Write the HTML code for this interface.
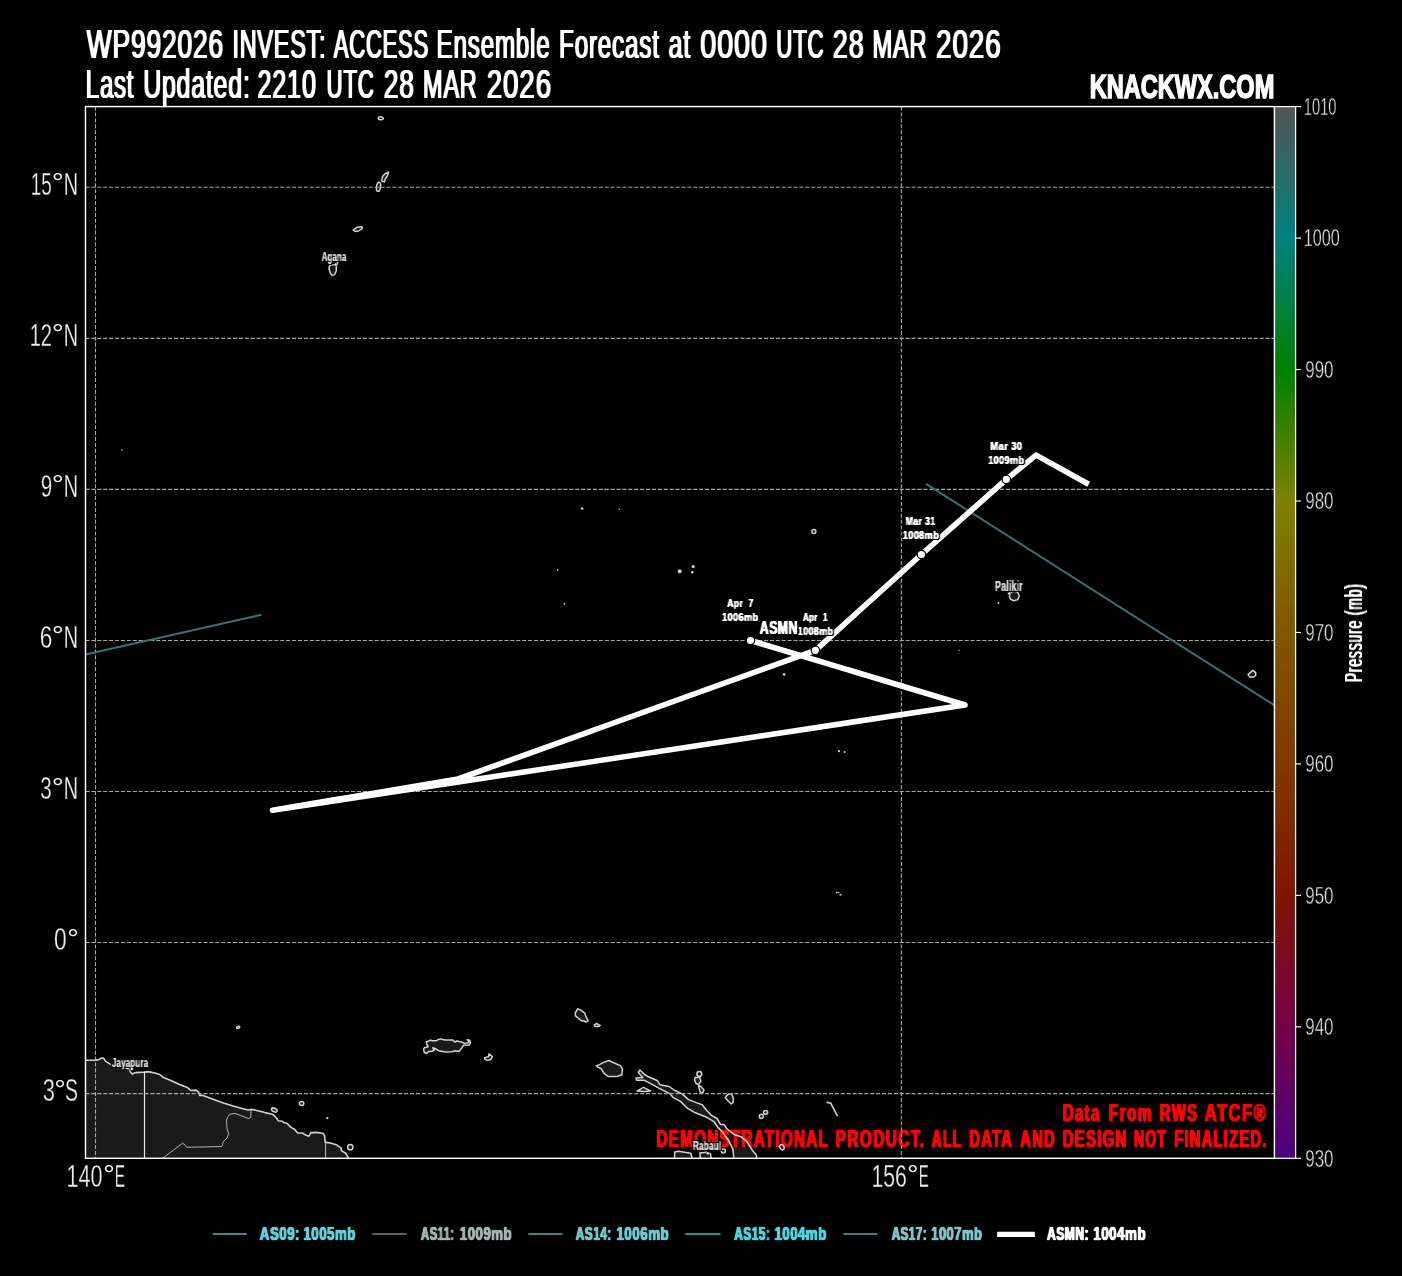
<!DOCTYPE html>
<html lang="en"><head><meta charset="utf-8"><title>WP992026 INVEST: ACCESS Ensemble Forecast</title>
<style>
html,body{margin:0;padding:0;background:#000;}
body{width:1402px;height:1276px;overflow:hidden;}
svg{display:block;}
text{font-family:"Liberation Sans",sans-serif;white-space:pre;}
.coast{fill:#1a1a1a;stroke:#d2d2d2;stroke-width:1.6;stroke-linejoin:round;stroke-linecap:round;}
.isl{fill:#1a1a1a;stroke:#cfcfcf;stroke-width:1.3;stroke-linejoin:round;}
.dot{fill:#cfcfcf;}
.bord{fill:none;stroke:#d8d8d8;stroke-width:0.8;stroke-linejoin:round;}
.grid{stroke:#a6a6a6;stroke-width:1.1;stroke-dasharray:4.1 1.8;fill:none;}
.ol{paint-order:stroke;stroke:#000;stroke-width:2.2;stroke-linejoin:round;}
</style></head><body>
<svg width="1402" height="1276" viewBox="0 0 1402 1276">
<rect width="1402" height="1276" fill="#000"/>
<defs>
<clipPath id="ax"><rect x="85.5" y="106.6" width="1189.0" height="1051.7"/></clipPath>
<linearGradient id="cb" x1="0" y1="0" x2="0" y2="1">

<stop offset="0.0000" stop-color="rgb(85, 85, 85)"/>
<stop offset="0.1250" stop-color="rgb(0, 128, 128)"/>
<stop offset="0.2500" stop-color="rgb(0, 128, 0)"/>
<stop offset="0.3750" stop-color="rgb(128, 128, 0)"/>
<stop offset="0.5000" stop-color="rgb(128, 86, 0)"/>
<stop offset="0.6250" stop-color="rgb(128, 56, 0)"/>
<stop offset="0.7500" stop-color="rgb(128, 20, 0)"/>
<stop offset="0.8750" stop-color="rgb(116, 0, 72)"/>
<stop offset="1.0000" stop-color="rgb(76, 0, 128)"/>
</linearGradient>
<filter id="lblA" x="-20%" y="-30%" width="140%" height="160%" color-interpolation-filters="sRGB"><feConvolveMatrix in="SourceAlpha" order="3 1" kernelMatrix="0.45 1 0.45" divisor="1" edgeMode="none" result="m"/><feMorphology in="SourceGraphic" operator="dilate" radius="1" result="c"/><feComposite in="c" in2="m" operator="in" result="t"/><feMorphology in="m" operator="dilate" radius="1" result="d"/><feFlood flood-color="#000"/><feComposite in2="d" operator="in" result="h"/><feMerge><feMergeNode in="h"/><feMergeNode in="t"/></feMerge></filter>
<filter id="lblS" x="-20%" y="-30%" width="140%" height="160%" color-interpolation-filters="sRGB"><feConvolveMatrix in="SourceAlpha" order="3 1" kernelMatrix="0.35 1 0.35" divisor="1" edgeMode="none" result="m"/><feMorphology in="SourceGraphic" operator="dilate" radius="1" result="c"/><feComposite in="c" in2="m" operator="in" result="t"/><feMorphology in="m" operator="dilate" radius="1" result="d"/><feFlood flood-color="#000"/><feComposite in2="d" operator="in" result="h"/><feMerge><feMergeNode in="h"/><feMergeNode in="t"/></feMerge></filter>
<filter id="lblC" x="-20%" y="-30%" width="140%" height="160%" color-interpolation-filters="sRGB"><feConvolveMatrix in="SourceAlpha" order="3 1" kernelMatrix="0.25 1 0.25" divisor="1" edgeMode="none" result="m"/><feMorphology in="SourceGraphic" operator="dilate" radius="1" result="c"/><feComposite in="c" in2="m" operator="in" result="t"/><feMorphology in="m" operator="dilate" radius="1" result="d"/><feFlood flood-color="#000"/><feComposite in2="d" operator="in" result="h"/><feMerge><feMergeNode in="h"/><feMergeNode in="t"/></feMerge></filter>
<filter id="hxL" x="-5%" y="-25%" width="110%" height="150%" color-interpolation-filters="sRGB"><feConvolveMatrix in="SourceAlpha" order="3 3" kernelMatrix="0 0.2 0 0.45 1 0.45 0 0.2 0" divisor="1" edgeMode="none" result="m"/><feMorphology in="SourceGraphic" operator="dilate" radius="1" result="c"/><feComposite in="c" in2="m" operator="in" result="t"/></filter>
<filter id="hxR" x="-5%" y="-25%" width="110%" height="150%" color-interpolation-filters="sRGB"><feConvolveMatrix in="SourceAlpha" order="3 3" kernelMatrix="0 0.15 0 0.62 1 0.62 0 0.15 0" divisor="1" edgeMode="none" result="m"/><feMorphology in="SourceGraphic" operator="dilate" radius="1" result="c"/><feComposite in="c" in2="m" operator="in" result="t"/></filter>
<filter id="hx1" x="-5%" y="-25%" width="110%" height="150%" color-interpolation-filters="sRGB"><feConvolveMatrix in="SourceAlpha" order="3 1" kernelMatrix="0.7 1 0.7" divisor="1" edgeMode="none" result="m"/><feMorphology in="SourceGraphic" operator="dilate" radius="1" result="c"/><feComposite in="c" in2="m" operator="in" result="t"/></filter>
<filter id="hy1" x="-5%" y="-25%" width="110%" height="150%" color-interpolation-filters="sRGB"><feConvolveMatrix in="SourceAlpha" order="1 3" kernelMatrix="0.5 1 0.5" divisor="1" edgeMode="none" result="m"/><feMorphology in="SourceGraphic" operator="dilate" radius="1" result="c"/><feComposite in="c" in2="m" operator="in" result="t"/></filter>
</defs>
<g clip-path="url(#ax)">
<polygon points="85.5,1060.3 95.5,1060.1 99.3,1059.5 100.9,1058 103.8,1058.4 105.7,1061.4 111,1064.6 116.4,1066.2 122.8,1067.6 129.2,1068.7 130.5,1072.1 132.1,1074 135.6,1072.6 144.2,1072.1 148.5,1071.6 154.9,1073 159.7,1074.5 162.9,1077.2 170.9,1080.4 179.5,1084.4 187.5,1087.6 190.7,1090.5 196.1,1090.1 198.8,1092.4 199.8,1095.4 203,1095.4 213.7,1099.4 223.4,1103.1 233.9,1106.2 247.8,1110 252.1,1109.4 256.9,1110.5 264.9,1112.6 272.4,1114.2 275.6,1116.9 278.3,1120.7 282.1,1121.2 284.2,1122.8 286.9,1123.3 290.6,1127.1 294.4,1129.2 297.6,1133 302.4,1133 305.6,1135.1 308.8,1136.2 310.9,1132.6 316.3,1132.4 322.7,1133.2 324.6,1135.6 325.2,1142.1 331.3,1143.3 336.1,1144.7 340.9,1147.9 341.4,1150.6 345.7,1153.3 348.4,1157.6 349,1162 349,1170 70,1170 70,1060.3" fill="#1a1a1a"/>
<g fill="#1a1a1a" stroke="none">
<ellipse cx="274.3" cy="1110" rx="3.0" ry="1.7" transform="rotate(25 274.3 1110)"/>
<ellipse cx="301.6" cy="1103.5" rx="2.2" ry="2.0" transform="rotate(20 301.6 1103.5)"/>
<ellipse cx="350.3" cy="1147.2" rx="2.6" ry="2.6" transform="rotate(0 350.3 1147.2)"/>
<ellipse cx="238.2" cy="1027.4" rx="1.6" ry="1.0" transform="rotate(-20 238.2 1027.4)"/>
<polygon points="423.6,1049.2 424.3,1047.8 428.2,1046.7 426.8,1044.3 426.4,1041.8 428.9,1041 430.3,1040 432.1,1040.8 436,1040.8 438.5,1039.4 441,1038.9 444.2,1040 452.8,1040 454.9,1042.1 456.7,1041 461.4,1042.1 464.2,1043.2 468.5,1042.8 468.5,1041 467.1,1039.6 469.6,1040.3 470.5,1042.8 469.2,1045.1 463.5,1045.3 461.4,1048.5 458.9,1051.4 455.6,1050.7 452.1,1051.7 445.7,1052.1 438.5,1050.7 435,1048.5 432.8,1047.8 434.3,1050.3 431.4,1051.4 428.5,1051.4 426.8,1053.5 424.3,1052.5"/>
<polygon points="484.6,1057.8 488.6,1056.6 489,1053.8 492.3,1056.6 490.6,1059.6 487.4,1060.4 484.9,1059.3"/>
<polygon points="577.6,1008.8 580.5,1009.9 584.7,1013.1 586.1,1016.9 588.2,1020.8 585.7,1022.2 583.6,1020.5 582.2,1021.2 578.3,1018.3 575.5,1015.9 575.2,1013.1"/>
<polygon points="594.2,1025 596.8,1023.4 598.2,1024.6 600.2,1025.4 598.5,1026.6 594.8,1026.6"/>
<polygon points="596.3,1066 599.5,1064.6 603.7,1062.4 609,1060.5 613.6,1062.8 620.3,1065.6 622.4,1068.8 621.9,1074.8 617.8,1076.2 614.3,1076.5 608,1076.5 604.1,1073.4 601.3,1068.8 598.4,1067.4"/>
<polygon points="640,1070 644.5,1074.5 648.5,1076.8 657.7,1080.8 659.9,1084.8 669.1,1086.5 674.8,1090.5 682.2,1093.9 688.5,1099.6 697.6,1103.1 702.2,1104.8 706.7,1110.5 711.3,1115.1 717,1118.5 720.4,1124.2 724.4,1124.8 726.7,1128.7 734.1,1134.5 741,1136.7 746.7,1141.3 752.4,1150.4 756.4,1155 757,1162 734.1,1162 733,1149.3 728.4,1140.2 722.7,1132.2 718.1,1127.6 713.6,1121.3 706.7,1117.3 695.3,1112.8 687.3,1108.2 680.5,1101.4 673.6,1097.9 670.2,1093.9 658.8,1088.2 650.8,1083.7 644,1080.2 636.5,1080.2 636,1078 642.8,1077.4 641.1,1075.7 638.3,1072.3"/>
<polygon points="637.1,1091.1 643.4,1087.4 650.6,1090.9 644,1091.6"/>
<ellipse cx="699.3" cy="1074" rx="2.4" ry="2.4" transform="rotate(0 699.3 1074)"/>
<polygon points="695,1077.6 699.8,1077.2 700.8,1081.5 698.5,1084.4 696,1083.5 694.6,1080"/>
<polygon points="698.4,1085.2 700.8,1086.5 703.9,1090 702.8,1093 700.4,1092.2 699.2,1088.8"/>
<polygon points="725.2,1097.5 728,1094.2 731.5,1093.6 733.4,1098.8 733,1102.6 731.2,1104 727.8,1100.8"/>
<ellipse cx="765.6" cy="1112.3" rx="2.1" ry="1.9" transform="rotate(0 765.6 1112.3)"/>
<ellipse cx="761.3" cy="1116.3" rx="2.0" ry="2.1" transform="rotate(0 761.3 1116.3)"/>
<ellipse cx="781.9" cy="1147.2" rx="2.0" ry="2.8" transform="rotate(-30 781.9 1147.2)"/>
<ellipse cx="723.3" cy="1151" rx="2.0" ry="2.0" transform="rotate(0 723.3 1151)"/>
<polygon points="674.2,1162 674.8,1152.1 678.2,1151.3 690.8,1153.3 693,1162"/>
<polygon points="700.5,1162 699.9,1152.9 706,1152.2 710.5,1153.6 711.5,1162"/>
<ellipse cx="380.8" cy="118.3" rx="2.6" ry="1.4" transform="rotate(5 380.8 118.3)"/>
<polygon points="381.6,180.8 382.6,176.6 385.2,173.6 388.6,172.3 387.2,176.2 385.4,178.8 384.4,182"/>
<ellipse cx="378.5" cy="186.8" rx="2.0" ry="4.6" transform="rotate(8 378.5 186.8)"/>
<polygon points="353.2,230.2 356.5,227.6 361.8,226.4 362.3,228.3 358.5,231 355.2,231.4"/>
<polygon points="337.8,262.6 336.3,266.5 336.3,271 334.5,274.6 332.2,275.4 330.2,273 329,268.5 329.6,265.4 331.6,264.8 334.5,264.8"/>
<ellipse cx="813.9" cy="531.4" rx="2.0" ry="2.0" transform="rotate(0 813.9 531.4)"/>
<polygon points="1010.0,594.0 1011.8,591.6 1015.5,591.2 1018.2,593.0 1019.2,596.2 1017.8,599.6 1013.8,600.8 1010.6,599.4 1009.4,596.8"/>
<polygon points="1248.0,674.6 1252.8,670.4 1255.6,672.6 1255.7,675.5 1253.6,677 1249.6,676.9"/>
</g>
<g filter="url(#hxR)">
<text y="1121.4" font-size="24.5" font-weight="700" fill="#ff0000" ><tspan x="1062.66" textLength="37.92" lengthAdjust="spacingAndGlyphs"  letter-spacing="2.0">Data</tspan> <tspan x="1108.83" textLength="44.23" lengthAdjust="spacingAndGlyphs"  letter-spacing="2.0">From</tspan> <tspan x="1159.87" textLength="38.43" lengthAdjust="spacingAndGlyphs"  letter-spacing="2.0">RWS</tspan> <tspan x="1204.73" textLength="62.39" lengthAdjust="spacingAndGlyphs"  letter-spacing="2.0">ATCF®</tspan></text>
<text y="1146.5" font-size="24.7" font-weight="700" fill="#ff0000" ><tspan x="656.56" textLength="172.52" lengthAdjust="spacingAndGlyphs"  letter-spacing="2.0">DEMONSTRATIONAL</tspan> <tspan x="835.74" textLength="89.60" lengthAdjust="spacingAndGlyphs"  letter-spacing="2.0">PRODUCT.</tspan> <tspan x="931.81" textLength="30.16" lengthAdjust="spacingAndGlyphs"  letter-spacing="2.0">ALL</tspan> <tspan x="969.28" textLength="44.01" lengthAdjust="spacingAndGlyphs"  letter-spacing="2.0">DATA</tspan> <tspan x="1020.28" textLength="35.58" lengthAdjust="spacingAndGlyphs"  letter-spacing="2.0">AND</tspan> <tspan x="1062.67" textLength="64.83" lengthAdjust="spacingAndGlyphs"  letter-spacing="2.0">DESIGN</tspan> <tspan x="1133.94" textLength="33.11" lengthAdjust="spacingAndGlyphs"  letter-spacing="2.0">NOT</tspan> <tspan x="1174.29" textLength="93.39" lengthAdjust="spacingAndGlyphs"  letter-spacing="2.0">FINALIZED.</tspan></text>
</g>
<polyline points="85.5,1060.3 95.5,1060.1 99.3,1059.5 100.9,1058 103.8,1058.4 105.7,1061.4 111,1064.6 116.4,1066.2 122.8,1067.6 129.2,1068.7 130.5,1072.1 132.1,1074 135.6,1072.6 144.2,1072.1 148.5,1071.6 154.9,1073 159.7,1074.5 162.9,1077.2 170.9,1080.4 179.5,1084.4 187.5,1087.6 190.7,1090.5 196.1,1090.1 198.8,1092.4 199.8,1095.4 203,1095.4 213.7,1099.4 223.4,1103.1 233.9,1106.2 247.8,1110 252.1,1109.4 256.9,1110.5 264.9,1112.6 272.4,1114.2 275.6,1116.9 278.3,1120.7 282.1,1121.2 284.2,1122.8 286.9,1123.3 290.6,1127.1 294.4,1129.2 297.6,1133 302.4,1133 305.6,1135.1 308.8,1136.2 310.9,1132.6 316.3,1132.4 322.7,1133.2 324.6,1135.6 325.2,1142.1 331.3,1143.3 336.1,1144.7 340.9,1147.9 341.4,1150.6 345.7,1153.3 348.4,1157.6 349,1162" class="coast" style="fill:none"/>
<line x1="144.5" y1="1072" x2="144.5" y2="1160" stroke="#e8e8e8" stroke-width="1.2"/>
<line x1="325.6" y1="1142.3" x2="325.6" y2="1160" stroke="#d8d8d8" stroke-width="0.9"/>
<polyline class="bord" points="162.9,1158 182.7,1143.2 185.4,1145.4 186.5,1147.3 221.8,1146.5 223.4,1141.6 227.1,1137.9 228.7,1133.6 227.1,1128.8 226.4,1120.2 228,1116.5 230.2,1114.2 235,1113.4 241.4,1115.8 248.4,1118.5 250.8,1117.4 251,1110.3"/>
<g fill="none" stroke="#d2d2d2" stroke-width="1.5" stroke-linejoin="round">
<ellipse cx="274.3" cy="1110" rx="3.0" ry="1.7" transform="rotate(25 274.3 1110)"/>
<ellipse cx="301.6" cy="1103.5" rx="2.2" ry="2.0" transform="rotate(20 301.6 1103.5)"/>
<ellipse cx="350.3" cy="1147.2" rx="2.6" ry="2.6" transform="rotate(0 350.3 1147.2)"/>
<ellipse cx="238.2" cy="1027.4" rx="1.6" ry="1.0" transform="rotate(-20 238.2 1027.4)"/>
<polygon points="423.6,1049.2 424.3,1047.8 428.2,1046.7 426.8,1044.3 426.4,1041.8 428.9,1041 430.3,1040 432.1,1040.8 436,1040.8 438.5,1039.4 441,1038.9 444.2,1040 452.8,1040 454.9,1042.1 456.7,1041 461.4,1042.1 464.2,1043.2 468.5,1042.8 468.5,1041 467.1,1039.6 469.6,1040.3 470.5,1042.8 469.2,1045.1 463.5,1045.3 461.4,1048.5 458.9,1051.4 455.6,1050.7 452.1,1051.7 445.7,1052.1 438.5,1050.7 435,1048.5 432.8,1047.8 434.3,1050.3 431.4,1051.4 428.5,1051.4 426.8,1053.5 424.3,1052.5"/>
<polygon points="484.6,1057.8 488.6,1056.6 489,1053.8 492.3,1056.6 490.6,1059.6 487.4,1060.4 484.9,1059.3"/>
<polygon points="577.6,1008.8 580.5,1009.9 584.7,1013.1 586.1,1016.9 588.2,1020.8 585.7,1022.2 583.6,1020.5 582.2,1021.2 578.3,1018.3 575.5,1015.9 575.2,1013.1"/>
<polygon points="594.2,1025 596.8,1023.4 598.2,1024.6 600.2,1025.4 598.5,1026.6 594.8,1026.6"/>
<polygon points="596.3,1066 599.5,1064.6 603.7,1062.4 609,1060.5 613.6,1062.8 620.3,1065.6 622.4,1068.8 621.9,1074.8 617.8,1076.2 614.3,1076.5 608,1076.5 604.1,1073.4 601.3,1068.8 598.4,1067.4"/>
<polygon points="640,1070 644.5,1074.5 648.5,1076.8 657.7,1080.8 659.9,1084.8 669.1,1086.5 674.8,1090.5 682.2,1093.9 688.5,1099.6 697.6,1103.1 702.2,1104.8 706.7,1110.5 711.3,1115.1 717,1118.5 720.4,1124.2 724.4,1124.8 726.7,1128.7 734.1,1134.5 741,1136.7 746.7,1141.3 752.4,1150.4 756.4,1155 757,1162 734.1,1162 733,1149.3 728.4,1140.2 722.7,1132.2 718.1,1127.6 713.6,1121.3 706.7,1117.3 695.3,1112.8 687.3,1108.2 680.5,1101.4 673.6,1097.9 670.2,1093.9 658.8,1088.2 650.8,1083.7 644,1080.2 636.5,1080.2 636,1078 642.8,1077.4 641.1,1075.7 638.3,1072.3"/>
<polygon points="637.1,1091.1 643.4,1087.4 650.6,1090.9 644,1091.6"/>
<ellipse cx="699.3" cy="1074" rx="2.4" ry="2.4" transform="rotate(0 699.3 1074)"/>
<polygon points="695,1077.6 699.8,1077.2 700.8,1081.5 698.5,1084.4 696,1083.5 694.6,1080"/>
<polygon points="698.4,1085.2 700.8,1086.5 703.9,1090 702.8,1093 700.4,1092.2 699.2,1088.8"/>
<polygon points="725.2,1097.5 728,1094.2 731.5,1093.6 733.4,1098.8 733,1102.6 731.2,1104 727.8,1100.8"/>
<ellipse cx="765.6" cy="1112.3" rx="2.1" ry="1.9" transform="rotate(0 765.6 1112.3)"/>
<ellipse cx="761.3" cy="1116.3" rx="2.0" ry="2.1" transform="rotate(0 761.3 1116.3)"/>
<ellipse cx="781.9" cy="1147.2" rx="2.0" ry="2.8" transform="rotate(-30 781.9 1147.2)"/>
<ellipse cx="723.3" cy="1151" rx="2.0" ry="2.0" transform="rotate(0 723.3 1151)"/>
<polygon points="674.2,1162 674.8,1152.1 678.2,1151.3 690.8,1153.3 693,1162"/>
<polygon points="700.5,1162 699.9,1152.9 706,1152.2 710.5,1153.6 711.5,1162"/>
<ellipse cx="380.8" cy="118.3" rx="2.6" ry="1.4" transform="rotate(5 380.8 118.3)"/>
<polygon points="381.6,180.8 382.6,176.6 385.2,173.6 388.6,172.3 387.2,176.2 385.4,178.8 384.4,182"/>
<ellipse cx="378.5" cy="186.8" rx="2.0" ry="4.6" transform="rotate(8 378.5 186.8)"/>
<polygon points="353.2,230.2 356.5,227.6 361.8,226.4 362.3,228.3 358.5,231 355.2,231.4"/>
<polygon points="337.8,262.6 336.3,266.5 336.3,271 334.5,274.6 332.2,275.4 330.2,273 329,268.5 329.6,265.4 331.6,264.8 334.5,264.8"/>
<ellipse cx="813.9" cy="531.4" rx="2.0" ry="2.0" transform="rotate(0 813.9 531.4)"/>
<polygon points="1010.0,594.0 1011.8,591.6 1015.5,591.2 1018.2,593.0 1019.2,596.2 1017.8,599.6 1013.8,600.8 1010.6,599.4 1009.4,596.8"/>
<polygon points="1248.0,674.6 1252.8,670.4 1255.6,672.6 1255.7,675.5 1253.6,677 1249.6,676.9"/>
</g>
<polyline points="827.3,1102.4 830.7,1103.1 833.3,1108.2 837.2,1115.5" fill="none" stroke="#cfcfcf" stroke-width="1.6" stroke-linecap="round"/>
<circle class="dot" cx="327.3" cy="1118.2" r="1.1"/>
<circle class="dot" cx="121.8" cy="450" r="0.8"/>
<circle class="dot" cx="605.3" cy="489.6" r="0.8"/>
<circle class="dot" cx="582.2" cy="508.5" r="1.3"/>
<circle class="dot" cx="619.2" cy="509.2" r="0.7"/>
<circle class="dot" cx="679.7" cy="571.3" r="2.0"/>
<circle class="dot" cx="693.2" cy="566.5" r="1.6"/>
<circle class="dot" cx="692.3" cy="572.3" r="1.3"/>
<circle class="dot" cx="557.6" cy="569.9" r="0.8"/>
<circle class="dot" cx="564.4" cy="603.7" r="0.9"/>
<circle class="dot" cx="959" cy="650.3" r="0.7"/>
<circle class="dot" cx="998.5" cy="603" r="0.9"/>
<circle class="dot" cx="784.1" cy="674.4" r="1.3"/>
<circle class="dot" cx="839" cy="751.2" r="1.1"/>
<circle class="dot" cx="844.7" cy="751.9" r="1.0"/>
<circle class="dot" cx="836.8" cy="892.7" r="0.9"/>
<circle class="dot" cx="838.8" cy="892.5" r="0.8"/>
<circle class="dot" cx="840.5" cy="894.7" r="1.0"/>
<line class="grid" x1="85.5" x2="1274.5" y1="187.30" y2="187.30"/>
<line class="grid" x1="85.5" x2="1274.5" y1="338.35" y2="338.35"/>
<line class="grid" x1="85.5" x2="1274.5" y1="489.40" y2="489.40"/>
<line class="grid" x1="85.5" x2="1274.5" y1="640.45" y2="640.45"/>
<line class="grid" x1="85.5" x2="1274.5" y1="791.50" y2="791.50"/>
<line class="grid" x1="85.5" x2="1274.5" y1="942.55" y2="942.55"/>
<line class="grid" x1="85.5" x2="1274.5" y1="1093.60" y2="1093.60"/>
<line class="grid" x1="95.5" x2="95.5" y1="106.6" y2="1158.3"/>
<line class="grid" x1="901.4" x2="901.4" y1="106.6" y2="1158.3"/>
<g filter="url(#lblC)">
<text transform="translate(321.70,261.40) scale(0.6202,1)" font-size="12.6" font-weight="700" fill="#cdcdcd"  letter-spacing="0.3">Agana</text>
<text transform="translate(995.12,590.80) scale(0.6148,1)" font-size="14.4" font-weight="700" fill="#cdcdcd"  letter-spacing="0.3">Palikir</text>
<text transform="translate(111.98,1066.50) scale(0.6200,1)" font-size="12.8" font-weight="700" fill="#cdcdcd"  letter-spacing="0.3">Jayapura</text>
<text transform="translate(692.97,1150.40) scale(0.6504,1)" font-size="12.6" font-weight="700" fill="#cdcdcd"  letter-spacing="0.3">Rabaul</text>
</g>
<circle cx="335.7" cy="264.5" r="1.6" fill="#e8e8e8" stroke="#000" stroke-width="0.5"/>
<circle cx="1009.2" cy="593.5" r="1.6" fill="#e8e8e8" stroke="#000" stroke-width="0.5"/>
<circle cx="131.9" cy="1068.9" r="1.6" fill="#e8e8e8" stroke="#000" stroke-width="0.5"/>
<circle cx="707.9" cy="1153.3" r="1.6" fill="#e8e8e8" stroke="#000" stroke-width="0.5"/>
<line x1="85.5" y1="654.6" x2="261.5" y2="614.7" stroke="#3a7073" stroke-width="2.0"/>
<line x1="926" y1="483.8" x2="1275" y2="705.7" stroke="#3a7073" stroke-width="2.0"/>
<polyline points="1088.7,484.2 1036.1,455.1 1006.3,479.4 921.4,554.5 815.4,650.3 458,779 272.5,810.2 965.0,705 750.5,640.5" fill="none" stroke="#fff" stroke-width="5.6" stroke-linejoin="round" stroke-linecap="butt"/>
<circle cx="1006.3" cy="479.4" r="4.2" fill="#fff" stroke="#000" stroke-width="1.2"/>
<circle cx="921.4" cy="554.5" r="4.2" fill="#fff" stroke="#000" stroke-width="1.2"/>
<circle cx="815.4" cy="650.3" r="4.2" fill="#fff" stroke="#000" stroke-width="1.2"/>
<circle cx="750.5" cy="640.5" r="4.2" fill="#fff" stroke="#000" stroke-width="1.2"/>
<g filter="url(#lblS)">
<text transform="translate(990.32,449.80) scale(0.8014,1)" font-size="11.8" font-weight="700" fill="#fff"  letter-spacing="0.45">Mar 30</text>
<text transform="translate(988.18,463.70) scale(0.7760,1)" font-size="11.8" font-weight="700" fill="#fff"  letter-spacing="0.45">1009mb</text>
<text transform="translate(905.66,525.20) scale(0.7432,1)" font-size="11.8" font-weight="700" fill="#fff"  letter-spacing="0.45">Mar 31</text>
<text transform="translate(902.68,539.40) scale(0.7827,1)" font-size="11.8" font-weight="700" fill="#fff"  letter-spacing="0.45">1008mb</text>
<text transform="translate(802.93,620.80) scale(0.6875,1)" font-size="11.8" font-weight="700" fill="#fff"  letter-spacing="0.45">Apr  1</text>
<text transform="translate(797.79,634.80) scale(0.7627,1)" font-size="11.8" font-weight="700" fill="#fff"  letter-spacing="0.45">1008mb</text>
<text transform="translate(727.32,606.50) scale(0.7282,1)" font-size="11.8" font-weight="700" fill="#fff"  letter-spacing="0.45">Apr  7</text>
<text transform="translate(722.08,620.50) scale(0.7827,1)" font-size="11.8" font-weight="700" fill="#fff"  letter-spacing="0.45">1006mb</text>
</g>
<g filter="url(#lblA)">
<text transform="translate(759.79,634.20) scale(0.6763,1)" font-size="18.2" font-weight="700" fill="#fff"  letter-spacing="0.7">ASMN</text>
</g>
</g>
<rect x="85.5" y="106.6" width="1189.0" height="1051.7" fill="none" stroke="#fff" stroke-width="1.45"/>
<rect x="1274.5" y="106.6" width="21.09999999999991" height="1051.7" fill="url(#cb)" stroke="#fff" stroke-width="1.25"/>
<line x1="1295.6" x2="1301" y1="106.60" y2="106.60" stroke="#fff" stroke-width="1.15"/>
<text transform="translate(1303.80,115.00) scale(0.6026,1)" font-size="24.4" font-weight="400" fill="#e4e4e4" stroke="#000" stroke-width="0.4">1010</text>
<line x1="1295.6" x2="1301" y1="238.06" y2="238.06" stroke="#fff" stroke-width="1.15"/>
<text transform="translate(1303.68,246.46) scale(0.6647,1)" font-size="24.4" font-weight="400" fill="#e4e4e4" stroke="#000" stroke-width="0.4">1000</text>
<line x1="1295.6" x2="1301" y1="369.52" y2="369.52" stroke="#fff" stroke-width="1.15"/>
<text transform="translate(1305.24,377.92) scale(0.6930,1)" font-size="24.4" font-weight="400" fill="#e4e4e4" stroke="#000" stroke-width="0.4">990</text>
<line x1="1295.6" x2="1301" y1="500.99" y2="500.99" stroke="#fff" stroke-width="1.15"/>
<text transform="translate(1305.24,509.39) scale(0.6930,1)" font-size="24.4" font-weight="400" fill="#e4e4e4" stroke="#000" stroke-width="0.4">980</text>
<line x1="1295.6" x2="1301" y1="632.45" y2="632.45" stroke="#fff" stroke-width="1.15"/>
<text transform="translate(1305.24,640.85) scale(0.6930,1)" font-size="24.4" font-weight="400" fill="#e4e4e4" stroke="#000" stroke-width="0.4">970</text>
<line x1="1295.6" x2="1301" y1="763.91" y2="763.91" stroke="#fff" stroke-width="1.15"/>
<text transform="translate(1305.24,772.31) scale(0.6930,1)" font-size="24.4" font-weight="400" fill="#e4e4e4" stroke="#000" stroke-width="0.4">960</text>
<line x1="1295.6" x2="1301" y1="895.38" y2="895.38" stroke="#fff" stroke-width="1.15"/>
<text transform="translate(1305.24,903.78) scale(0.6930,1)" font-size="24.4" font-weight="400" fill="#e4e4e4" stroke="#000" stroke-width="0.4">950</text>
<line x1="1295.6" x2="1301" y1="1026.84" y2="1026.84" stroke="#fff" stroke-width="1.15"/>
<text transform="translate(1305.24,1035.24) scale(0.6930,1)" font-size="24.4" font-weight="400" fill="#e4e4e4" stroke="#000" stroke-width="0.4">940</text>
<line x1="1295.6" x2="1301" y1="1158.30" y2="1158.30" stroke="#fff" stroke-width="1.15"/>
<text transform="translate(1305.24,1166.70) scale(0.6930,1)" font-size="24.4" font-weight="400" fill="#e4e4e4" stroke="#000" stroke-width="0.4">930</text>
<g filter="url(#hy1)">
<text transform="translate(1362.3,681.7) rotate(-90) translate(-0.62,0.00) scale(0.5780,1)" font-size="24.2" font-weight="400" fill="#fff"  letter-spacing="1.4">Pressure (mb)</text>
</g>
<g filter="url(#hx1)">
<text y="58.2" font-size="41" font-weight="400" fill="#fff" ><tspan x="86.87" textLength="137.20" lengthAdjust="spacingAndGlyphs"  letter-spacing="1.3">WP992026</tspan> <tspan x="232.39" textLength="93.96" lengthAdjust="spacingAndGlyphs"  letter-spacing="1.3">INVEST:</tspan> <tspan x="333.80" textLength="95.05" lengthAdjust="spacingAndGlyphs"  letter-spacing="1.3">ACCESS</tspan> <tspan x="436.56" textLength="113.95" lengthAdjust="spacingAndGlyphs"  letter-spacing="1.3">Ensemble</tspan> <tspan x="559.06" textLength="100.66" lengthAdjust="spacingAndGlyphs"  letter-spacing="1.3">Forecast</tspan> <tspan x="668.49" textLength="22.64" lengthAdjust="spacingAndGlyphs"  letter-spacing="1.3">at</tspan> <tspan x="700.35" textLength="67.56" lengthAdjust="spacingAndGlyphs"  letter-spacing="1.3">0000</tspan> <tspan x="776.33" textLength="47.97" lengthAdjust="spacingAndGlyphs"  letter-spacing="1.3">UTC</tspan> <tspan x="832.85" textLength="31.75" lengthAdjust="spacingAndGlyphs"  letter-spacing="1.3">28</tspan> <tspan x="872.61" textLength="54.76" lengthAdjust="spacingAndGlyphs"  letter-spacing="1.3">MAR</tspan> <tspan x="936.01" textLength="65.59" lengthAdjust="spacingAndGlyphs"  letter-spacing="1.3">2026</tspan></text>
<text y="98.0" font-size="41" font-weight="400" fill="#fff" ><tspan x="85.78" textLength="48.43" lengthAdjust="spacingAndGlyphs"  letter-spacing="1.3">Last</tspan> <tspan x="143.13" textLength="107.49" lengthAdjust="spacingAndGlyphs"  letter-spacing="1.3">Updated:</tspan> <tspan x="257.54" textLength="59.13" lengthAdjust="spacingAndGlyphs"  letter-spacing="1.3">2210</tspan> <tspan x="326.62" textLength="48.07" lengthAdjust="spacingAndGlyphs"  letter-spacing="1.3">UTC</tspan> <tspan x="383.68" textLength="31.08" lengthAdjust="spacingAndGlyphs"  letter-spacing="1.3">28</tspan> <tspan x="423.12" textLength="54.43" lengthAdjust="spacingAndGlyphs"  letter-spacing="1.3">MAR</tspan> <tspan x="486.71" textLength="65.27" lengthAdjust="spacingAndGlyphs"  letter-spacing="1.3">2026</tspan></text>
</g>
<text transform="translate(1089.67,98.00) scale(0.6978,1)" font-size="33.8" font-weight="700" fill="#fff" stroke="#fff" stroke-width="1.6">KNACKWX.COM</text>
<text y="195.0" font-size="32" fill="#efefef"><tspan x="30.78" textLength="21.02" lengthAdjust="spacingAndGlyphs" stroke="#000" stroke-width="0.3">15</tspan><tspan x="51.88" textLength="12.14" lengthAdjust="spacingAndGlyphs" dy="-3.7" font-size="26.4">°</tspan><tspan x="63.81" textLength="14.31" lengthAdjust="spacingAndGlyphs" dy="3.7" stroke="#000" stroke-width="0.3">N</tspan></text>
<text y="346.05" font-size="32" fill="#efefef"><tspan x="29.69" textLength="22.36" lengthAdjust="spacingAndGlyphs" stroke="#000" stroke-width="0.3">12</tspan><tspan x="51.88" textLength="12.14" lengthAdjust="spacingAndGlyphs" dy="-3.7" font-size="26.4">°</tspan><tspan x="63.81" textLength="14.31" lengthAdjust="spacingAndGlyphs" dy="3.7" stroke="#000" stroke-width="0.3">N</tspan></text>
<text y="497.1" font-size="32" fill="#efefef"><tspan x="40.67" textLength="11.48" lengthAdjust="spacingAndGlyphs" stroke="#000" stroke-width="0.3">9</tspan><tspan x="51.88" textLength="12.14" lengthAdjust="spacingAndGlyphs" dy="-3.7" font-size="26.4">°</tspan><tspan x="63.81" textLength="14.31" lengthAdjust="spacingAndGlyphs" dy="3.7" stroke="#000" stroke-width="0.3">N</tspan></text>
<text y="648.1500000000001" font-size="32" fill="#efefef"><tspan x="39.67" textLength="12.56" lengthAdjust="spacingAndGlyphs" stroke="#000" stroke-width="0.3">6</tspan><tspan x="51.88" textLength="12.14" lengthAdjust="spacingAndGlyphs" dy="-3.7" font-size="26.4">°</tspan><tspan x="63.81" textLength="14.31" lengthAdjust="spacingAndGlyphs" dy="3.7" stroke="#000" stroke-width="0.3">N</tspan></text>
<text y="799.2" font-size="32" fill="#efefef"><tspan x="40.37" textLength="11.47" lengthAdjust="spacingAndGlyphs" stroke="#000" stroke-width="0.3">3</tspan><tspan x="51.88" textLength="12.14" lengthAdjust="spacingAndGlyphs" dy="-3.7" font-size="26.4">°</tspan><tspan x="63.81" textLength="14.31" lengthAdjust="spacingAndGlyphs" dy="3.7" stroke="#000" stroke-width="0.3">N</tspan></text>
<text y="950.25" font-size="32" fill="#efefef"><tspan x="53.99" textLength="12.63" lengthAdjust="spacingAndGlyphs" stroke="#000" stroke-width="0.3">0</tspan><tspan x="67.16" textLength="11.57" lengthAdjust="spacingAndGlyphs" dy="-3.7" font-size="26.4">°</tspan></text>
<text y="1101.3000000000002" font-size="32" fill="#efefef"><tspan x="42.82" textLength="12.18" lengthAdjust="spacingAndGlyphs" stroke="#000" stroke-width="0.3">3</tspan><tspan x="54.16" textLength="11.57" lengthAdjust="spacingAndGlyphs" dy="-3.7" font-size="26.4">°</tspan><tspan x="65.12" textLength="12.99" lengthAdjust="spacingAndGlyphs" dy="3.7" stroke="#000" stroke-width="0.3">S</tspan></text>
<text y="1187" font-size="32" fill="#efefef"><tspan x="66.48" textLength="35.95" lengthAdjust="spacingAndGlyphs" stroke="#000" stroke-width="0.3">140</tspan><tspan x="103.00" textLength="12.00" lengthAdjust="spacingAndGlyphs" dy="-3.7" font-size="26.4">°</tspan><tspan x="114.67" textLength="10.28" lengthAdjust="spacingAndGlyphs" dy="3.7" stroke="#000" stroke-width="0.3">E</tspan></text>
<text y="1187" font-size="32" fill="#efefef"><tspan x="871.41" textLength="35.42" lengthAdjust="spacingAndGlyphs" stroke="#000" stroke-width="0.3">156</tspan><tspan x="906.96" textLength="11.57" lengthAdjust="spacingAndGlyphs" dy="-3.7" font-size="26.4">°</tspan><tspan x="918.80" textLength="10.04" lengthAdjust="spacingAndGlyphs" dy="3.7" stroke="#000" stroke-width="0.3">E</tspan></text>
<line x1="212.6" x2="246.8" y1="1234.0" y2="1234.0" stroke="#3f868a" stroke-width="1.8"/>
<line x1="372.3" x2="406.6" y1="1234.0" y2="1234.0" stroke="#5a6464" stroke-width="1.8"/>
<line x1="528.3" x2="562.5" y1="1234.0" y2="1234.0" stroke="#3f8085" stroke-width="1.8"/>
<line x1="685.3" x2="720.5" y1="1234.0" y2="1234.0" stroke="#2f8d93" stroke-width="1.8"/>
<line x1="843.2" x2="877.5" y1="1234.0" y2="1234.0" stroke="#4a777b" stroke-width="1.8"/>
<line x1="997.1" x2="1034.9" y1="1234.3" y2="1234.3" stroke="#fff" stroke-width="5.3"/>
<g filter="url(#hxL)">
<text y="1239.5" font-size="18.5" font-weight="700" fill="#5fd0d8" ><tspan x="259.87" textLength="40.16" lengthAdjust="spacingAndGlyphs"  letter-spacing="0.7">AS09:</tspan> <tspan x="303.51" textLength="52.32" lengthAdjust="spacingAndGlyphs"  letter-spacing="0.7">1005mb</tspan></text>
<text y="1239.5" font-size="18.5" font-weight="700" fill="#a3b1b1" ><tspan x="421.12" textLength="33.43" lengthAdjust="spacingAndGlyphs"  letter-spacing="0.7">AS11:</tspan> <tspan x="459.80" textLength="52.42" lengthAdjust="spacingAndGlyphs"  letter-spacing="0.7">1009mb</tspan></text>
<text y="1239.5" font-size="18.5" font-weight="700" fill="#6ec9cf" ><tspan x="575.80" textLength="35.82" lengthAdjust="spacingAndGlyphs"  letter-spacing="0.7">AS14:</tspan> <tspan x="616.40" textLength="52.84" lengthAdjust="spacingAndGlyphs"  letter-spacing="0.7">1006mb</tspan></text>
<text y="1239.5" font-size="18.5" font-weight="700" fill="#45d8e2" ><tspan x="734.30" textLength="36.04" lengthAdjust="spacingAndGlyphs"  letter-spacing="0.7">AS15:</tspan> <tspan x="774.41" textLength="52.32" lengthAdjust="spacingAndGlyphs"  letter-spacing="0.7">1004mb</tspan></text>
<text y="1239.5" font-size="18.5" font-weight="700" fill="#7ec4c8" ><tspan x="891.71" textLength="35.40" lengthAdjust="spacingAndGlyphs"  letter-spacing="0.7">AS17:</tspan> <tspan x="931.22" textLength="51.18" lengthAdjust="spacingAndGlyphs"  letter-spacing="0.7">1007mb</tspan></text>
<text y="1239.5" font-size="18.5" font-weight="700" fill="#fff" ><tspan x="1046.90" textLength="42.25" lengthAdjust="spacingAndGlyphs"  letter-spacing="0.7">ASMN:</tspan> <tspan x="1093.20" textLength="52.94" lengthAdjust="spacingAndGlyphs"  letter-spacing="0.7">1004mb</tspan></text>
</g>
</svg></body></html>
